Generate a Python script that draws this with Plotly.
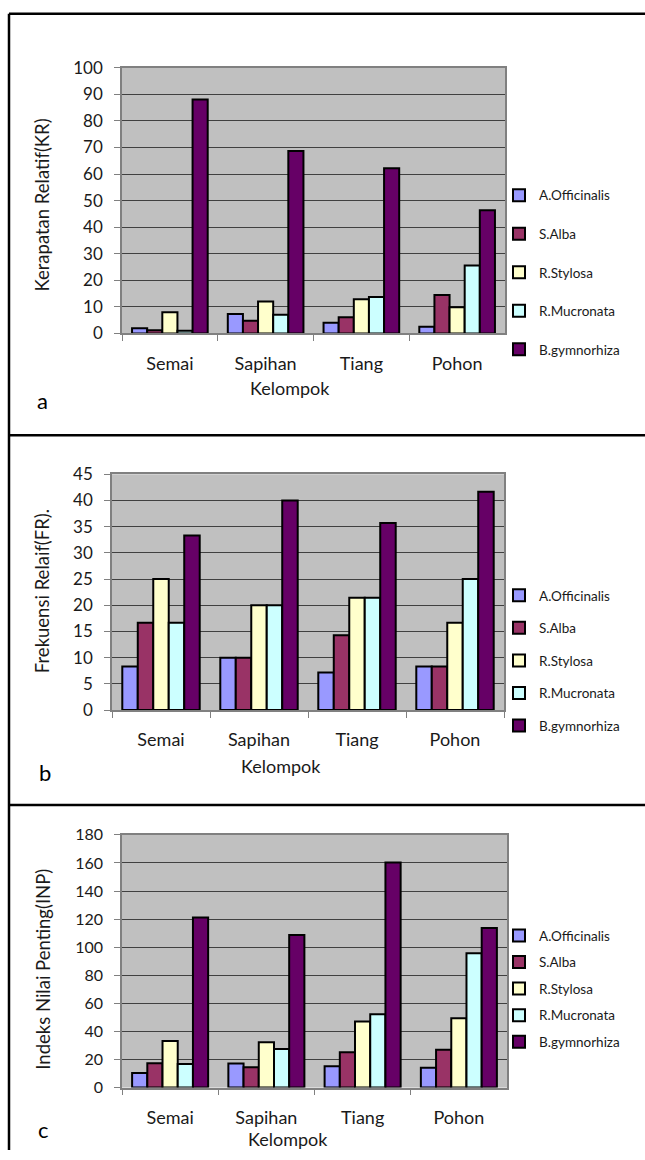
import plotly.graph_objects as go

W, H = 645, 1160
FONT = "Lato"
TXT = "#1a1a1a"

categories = ["Semai", "Sapihan", "Tiang", "Pohon"]
species = ["A.Officinalis", "S.Alba", "R.Stylosa", "R.Mucronata", "B.gymnorhiza"]
colors = ["#9999FF", "#993366", "#FFFFCC", "#CCFFFF", "#660066"]

# Panel a: Kerapatan Relatif (KR)
kr_a_officinalis = [2.0, 7.3, 4.0, 2.5]
kr_s_alba = [1.2, 4.8, 6.1, 14.5]
kr_r_stylosa = [8.0, 12.0, 12.9, 9.9]
kr_r_mucronata = [1.0, 7.0, 13.7, 25.6]
kr_b_gymnorhiza = [88.0, 68.7, 62.2, 46.4]

# Panel b: Frekuensi Relatif (FR)
fr_a_officinalis = [8.33, 10.0, 7.14, 8.33]
fr_s_alba = [16.67, 10.0, 14.29, 8.33]
fr_r_stylosa = [25.0, 20.0, 21.43, 16.67]
fr_r_mucronata = [16.67, 20.0, 21.43, 25.0]
fr_b_gymnorhiza = [33.33, 40.0, 35.71, 41.67]

# Panel c: Indeks Nilai Penting (INP)
inp_a_officinalis = [10.4, 17.1, 15.2, 14.2]
inp_s_alba = [17.3, 14.5, 25.1, 27.0]
inp_r_stylosa = [33.2, 32.3, 47.0, 49.3]
inp_r_mucronata = [16.8, 27.5, 52.2, 95.6]
inp_b_gymnorhiza = [121.2, 108.6, 160.3, 113.6]


def cy(y):
    # compensate the vertical offset/scale observed in the rendered page
    return (y - 9.2) / 0.983


panels = [
    dict(series=[kr_a_officinalis, kr_s_alba, kr_r_stylosa, kr_r_mucronata, kr_b_gymnorhiza],
         ymax=100, dtick=10, ytitle="Kerapatan Relatif(KR)", letter="a",
         x0=122, x1=505, ytop=cy(66), ybot=cy(332), tickfs=17,
         ytitle_xy=(42, cy(204)), kel_xy=(290, cy(387)), letter_xy=(42, cy(399)),
         legend_top=172, gap=18),
    dict(series=[fr_a_officinalis, fr_s_alba, fr_r_stylosa, fr_r_mucronata, fr_b_gymnorhiza],
         ymax=45, dtick=5, ytitle="Frekuensi Relaif(FR).", letter="b",
         x0=112, x1=504, ytop=cy(473), ybot=cy(709), tickfs=17,
         ytitle_xy=(42, cy(590)), kel_xy=(281, cy(765)), letter_xy=(45, cy(772)),
         legend_top=579.5, gap=12),
    dict(series=[inp_a_officinalis, inp_s_alba, inp_r_stylosa, inp_r_mucronata, inp_b_gymnorhiza],
         ymax=180, dtick=20, ytitle="Indeks Nilai Penting(INP)", letter="c",
         x0=122, x1=507, ytop=cy(834), ybot=cy(1087), tickfs=16,
         ytitle_xy=(43, cy(969)), kel_xy=(288, cy(1138)), letter_xy=(43, cy(1129)),
         legend_top=926, gap=6),
]


def px(x):
    return x / W


def py(y):
    return 1 - y / H


fig = go.Figure()
annotations = []
shapes = []
layout = dict(
    width=W, height=H, margin=dict(l=0, r=0, t=0, b=0),
    paper_bgcolor="white", plot_bgcolor="#C0C0C0",
    barmode="group", bargap=0.21, bargroupgap=0,
    font=dict(family=FONT, color=TXT),
)

for i, p in enumerate(panels):
    k = "" if i == 0 else str(i + 1)
    lg = "legend" if i == 0 else f"legend{i + 1}"
    for j, (name, vals) in enumerate(zip(species, p["series"])):
        fig.add_trace(go.Bar(
            x=categories, y=vals, name=name,
            marker=dict(color=colors[j], line=dict(color="black", width=2)),
            xaxis="x" + k, yaxis="y" + k, legend=lg, legendgroup=f"{i}-{j}",
        ))
    layout["xaxis" + k] = dict(
        domain=[px(p["x0"]), px(p["x1"])], anchor="y" + k,
        showline=True, linecolor="#808080", linewidth=1.5, mirror=True,
        ticks="outside", tickson="boundaries", ticklen=6, tickcolor="#808080",
        tickfont=dict(family=FONT, size=18, color=TXT), ticklabelstandoff=13,
        showgrid=False,
    )
    layout["yaxis" + k] = dict(
        domain=[py(p["ybot"]), py(p["ytop"])], anchor="x" + k,
        range=[0, p["ymax"]], dtick=p["dtick"],
        showline=True, linecolor="#808080", linewidth=1.5, mirror=True,
        ticks="outside", ticklen=6, tickcolor="#808080",
        tickfont=dict(family=FONT, size=p["tickfs"], color=TXT), ticklabelstandoff=8,
        showgrid=True, gridcolor="#404040", gridwidth=1, zeroline=False,
    )
    layout[lg] = dict(
        x=px(499), xanchor="left", y=py(p["legend_top"]), yanchor="top",
        bgcolor="rgba(0,0,0,0)", font=dict(family=FONT, size=13.5, color=TXT),
        tracegroupgap=p["gap"], orientation="v",
    )
    annotations.append(dict(
        x=px(p["ytitle_xy"][0]), y=py(p["ytitle_xy"][1]), xref="paper", yref="paper",
        text=p["ytitle"], textangle=-90, showarrow=False,
        font=dict(family=FONT, size=18.5, color=TXT), xanchor="center", yanchor="middle",
    ))
    annotations.append(dict(
        x=px(p["kel_xy"][0]), y=py(p["kel_xy"][1]), xref="paper", yref="paper",
        text="Kelompok", showarrow=False,
        font=dict(family=FONT, size=18, color=TXT), xanchor="center", yanchor="middle",
    ))
    annotations.append(dict(
        x=px(p["letter_xy"][0]), y=py(p["letter_xy"][1]), xref="paper", yref="paper",
        text=p["letter"], showarrow=False,
        font=dict(family=FONT, size=22, color="black"), xanchor="center", yanchor="middle",
    ))

# outer frame and panel separators
line = dict(color="black", width=2.5)
shapes.append(dict(type="line", xref="paper", yref="paper", x0=px(9), x1=px(9),
                   y0=py(cy(12)), y1=0, line=line))
for yy in [12, 434, 804]:
    shapes.append(dict(type="line", xref="paper", yref="paper", x0=px(9), x1=1,
                       y0=py(cy(yy)), y1=py(cy(yy)), line=line))

layout["annotations"] = annotations
layout["shapes"] = shapes
fig.update_layout(**layout)

css = "html,body{margin:0 !important;padding:0 !important;overflow:hidden;}"
fig.write_html(
    "out.html",
    config={"displayModeBar": False},
    post_script=(
        "var s=document.createElement('style');s.innerHTML='" + css + "';"
        "document.head.appendChild(s);"
    ),
)
